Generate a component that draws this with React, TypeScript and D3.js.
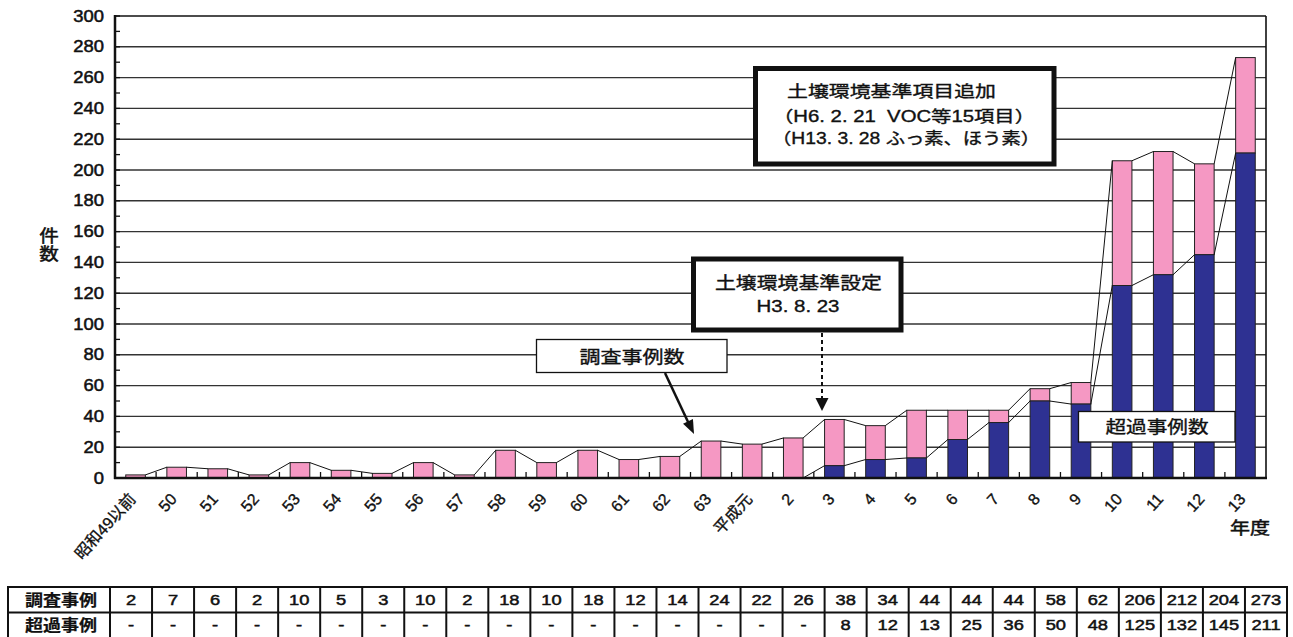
import React from 'react';
import * as d3 from 'd3';

// ---------- data ----------
const categories = [
  '昭和49以前', '50', '51', '52', '53', '54', '55', '56', '57', '58', '59', '60', '61', '62', '63',
  '平成元', '2', '3', '4', '5', '6', '7', '8', '9', '10', '11', '12', '13',
];
const totalCases = [2, 7, 6, 2, 10, 5, 3, 10, 2, 18, 10, 18, 12, 14, 24, 22, 26, 38, 34, 44, 44, 44, 58, 62, 206, 212, 204, 273];
const exceedCases: (number | null)[] = [
  null, null, null, null, null, null, null, null, null, null, null, null, null, null, null, null, null,
  8, 12, 13, 25, 36, 50, 48, 125, 132, 145, 211,
];
const yTickValues = [0, 20, 40, 60, 80, 100, 120, 140, 160, 180, 200, 220, 240, 260, 280, 300];
const yMinorTickValues = d3.range(0, 301, 10);
const tableRowLabels = ['調査事例', '超過事例'];
const yAxisLabel = ['件', '数'];
const xAxisLabel = '年度';
const bigNoteLines = ['土壌環境基準項目追加', '（H6. 2. 21\u00A0\u00A0VOC等15項目）', '（H13. 3. 28\u00A0ふっ素、ほう素）'];
const setNoteLines = ['土壌環境基準設定', 'H3. 8. 23'];
const totalLabel = '調査事例数';
const exceedLabel = '超過事例数';

// ---------- layout ----------
const W = 1293, H = 637;
const PL = 115, PR = 1266, PT = 16, PB = 478;
const FONT = "'Liberation Sans', Arial, 'Noto Sans CJK JP', sans-serif";
const PINK = '#F598C3';
const BLUE = '#2E3192';

type TxtProps = {
  x: number; y: number; s: string; size?: number; anchor?: string; sx?: number;
  len?: number; weight?: string | number; rotate?: number; heavy?: number;
};
function Txt({ x, y, s, size = 16, anchor = 'middle', sx = 1, len, weight = 'normal', rotate = 0, heavy = 0.35 }: TxtProps) {
  return (
    <text
      transform={`translate(${x},${y}) rotate(${rotate}) scale(${sx},1)`}
      x={0}
      y={0}
      fontSize={size}
      fontWeight={weight}
      textAnchor={anchor as any}
      dominantBaseline="central"
      textLength={len ? len / sx : undefined}
      lengthAdjust={len ? 'spacingAndGlyphs' : undefined}
      fill="#111"
      stroke="#111"
      strokeWidth={heavy}
    >
      {s}
    </text>
  );
}

function arrowHead(x1: number, y1: number, x2: number, y2: number, len: number, wid: number) {
  const dx = x2 - x1, dy = y2 - y1;
  const d = Math.hypot(dx, dy);
  const ux = dx / d, uy = dy / d;
  const bx = x2 - ux * len, by = y2 - uy * len;
  const px = -uy, py = ux;
  return `${x2},${y2} ${bx + px * wid / 2},${by + py * wid / 2} ${bx - px * wid / 2},${by - py * wid / 2}`;
}

export default function App() {
  const x = d3.scaleBand<string>().domain(categories).range([PL, PR]).paddingInner(0.523).paddingOuter(0.2615);
  const y = d3.scaleLinear().domain([0, 300]).range([PB, PT]);
  const step = x.step();
  const bw = x.bandwidth();
  const tx = d3.scaleBand<string>().domain(categories).range([110, 1287]);

  const seriesLines: JSX.Element[] = [];
  for (let i = 0; i < categories.length - 1; i++) {
    const x1 = (x(categories[i]) as number) + bw;
    const x2 = x(categories[i + 1]) as number;
    seriesLines.push(
      <line key={'t' + i} x1={x1} y1={y(totalCases[i])} x2={x2} y2={y(totalCases[i + 1])} stroke="#111" strokeWidth={1} />
    );
    const e1 = exceedCases[i] ?? 0, e2 = exceedCases[i + 1] ?? 0;
    if (e1 || e2) {
      seriesLines.push(
        <line key={'e' + i} x1={x1} y1={y(e1)} x2={x2} y2={y(e2)} stroke="#111" strokeWidth={1} />
      );
    }
  }

  return (
    <svg
      width={W}
      height={H}
      style={{ position: 'absolute', left: 0, top: 0, background: '#fff', fontFamily: FONT }}
    >
      <rect x={0} y={0} width={W} height={H} fill="#fff" />

      {/* gridlines */}
      {yTickValues.filter(v => v > 0 && v < 300).map(v => (
        <line key={v} x1={PL} x2={PR} y1={y(v)} y2={y(v)} stroke="#333" strokeWidth={1.4} />
      ))}

      {/* bars */}
      {categories.map((c, i) => {
        const bx = x(c) as number;
        const e = exceedCases[i] ?? 0;
        const t = totalCases[i];
        return (
          <g key={c}>
            {t > e && (
              <rect x={bx} y={y(t)} width={bw} height={y(e) - y(t)} fill={PINK} stroke="#222" strokeWidth={1} />
            )}
            {e > 0 && (
              <rect x={bx} y={y(e)} width={bw} height={y(0) - y(e)} fill={BLUE} stroke="#222" strokeWidth={1} />
            )}
          </g>
        );
      })}

      {/* series lines */}
      {seriesLines}

      {/* y minor ticks */}
      {yMinorTickValues.map(v => (
        <line key={'m' + v} x1={PL} x2={PL + 5} y1={y(v)} y2={y(v)} stroke="#111" strokeWidth={1.3} />
      ))}
      {/* x category ticks */}
      {categories.slice(1).map((c, i) => {
        const bx = PL + step * (i + 1);
        return <line key={'xt' + c} x1={bx} x2={bx} y1={PB} y2={PB - 6} stroke="#111" strokeWidth={1.3} />;
      })}

      {/* frame */}
      <line x1={PL} x2={PR} y1={PT} y2={PT} stroke="#111" strokeWidth={1.6} />
      <line x1={PR} x2={PR} y1={PT} y2={PB} stroke="#111" strokeWidth={1.6} />
      <line x1={PL} x2={PL} y1={PT - 1} y2={PB + 1} stroke="#111" strokeWidth={2.5} />
      <line x1={PL - 1} x2={PR + 1} y1={PB} y2={PB} stroke="#111" strokeWidth={2.5} />

      {/* y tick labels */}
      {yTickValues.map(v => (
        <Txt key={'yl' + v} x={104} y={y(v)} s={String(v)} size={16} anchor="end" sx={1.15} heavy={0.5} />
      ))}
      {yAxisLabel.map((s, i) => (
        <Txt key={'ya' + s} x={49} y={236 + i * 18} s={s} size={17} sx={1.15} heavy={0.5} />
      ))}

      {/* x tick labels */}
      {categories.map(c => (
        <Txt
          key={'xl' + c}
          x={(x(c) as number) + bw / 2 - 3}
          y={496}
          s={c}
          size={16}
          anchor="end"
          rotate={-48}
        />
      ))}
      <Txt x={1250} y={528} s={xAxisLabel} size={17} len={40} heavy={0.5} />

      {/* big annotation */}
      <rect x={755.5} y={68.5} width={298.5} height={95.5} fill="#fff" stroke="#111" strokeWidth={5} />
      <Txt x={787} y={91} s={bigNoteLines[0]} size={16} anchor="start" len={209} />
      <Txt x={773} y={116} s={bigNoteLines[1]} size={16} anchor="start" len={262} />
      <Txt x={772} y={138} s={bigNoteLines[2]} size={16} anchor="start" len={268} />

      {/* standard set annotation */}
      <rect x={693.5} y={259} width={207.5} height={71} fill="#fff" stroke="#111" strokeWidth={5} />
      <Txt x={715} y={283} s={setNoteLines[0]} size={17} anchor="start" len={167} />
      <Txt x={798} y={306} s={setNoteLines[1]} size={17} len={83} />
      <line x1={822} y1={333} x2={822} y2={400} stroke="#111" strokeWidth={2} strokeDasharray="4,3" />
      <polygon points={arrowHead(822, 333, 822, 411, 13, 13)} fill="#111" />

      {/* total label */}
      <rect x={536.5} y={339.5} width={190.5} height={33} fill="#fff" stroke="#111" strokeWidth={1.3} />
      <Txt x={632} y={357} s={totalLabel} size={17} len={105} />
      <line x1={665} y1={373} x2={689} y2={424} stroke="#111" strokeWidth={2.5} />
      <polygon points={arrowHead(665, 373, 694, 434, 14, 11)} fill="#111" />

      {/* exceed label */}
      <rect x={1078.5} y={411.5} width={156.5} height={30.5} fill="#fff" stroke="#111" strokeWidth={1.3} />
      <Txt x={1157} y={427} s={exceedLabel} size={17} len={103} />

      {/* table */}
      <g>
        <rect x={8} y={587} width={1279} height={52} fill="#fff" stroke="#111" strokeWidth={2} />
        <line x1={8} x2={1287} y1={612.5} y2={612.5} stroke="#111" strokeWidth={2} />
        <line x1={110} x2={110} y1={587} y2={639} stroke="#111" strokeWidth={2} />
        {categories.slice(1).map(c => (
          <line key={'tc' + c} x1={tx(c) as number} x2={tx(c) as number} y1={587} y2={639} stroke="#111" strokeWidth={2} />
        ))}
        {tableRowLabels.map((s, r) => (
          <Txt key={'tr' + s} x={61} y={600 + r * 25} s={s} size={16} len={72} weight="bold" heavy={0.2} />
        ))}
        {categories.map((c, i) => {
          const cx = (tx(c) as number) + tx.bandwidth() / 2;
          const e = exceedCases[i];
          return (
            <g key={'td' + c}>
              <Txt x={cx} y={600} s={String(totalCases[i])} size={15} sx={1.22} heavy={0.5} />
              <Txt x={cx} y={625} s={e == null ? '-' : String(e)} size={15} sx={1.22} heavy={0.5} />
            </g>
          );
        })}
      </g>
    </svg>
  );
}
